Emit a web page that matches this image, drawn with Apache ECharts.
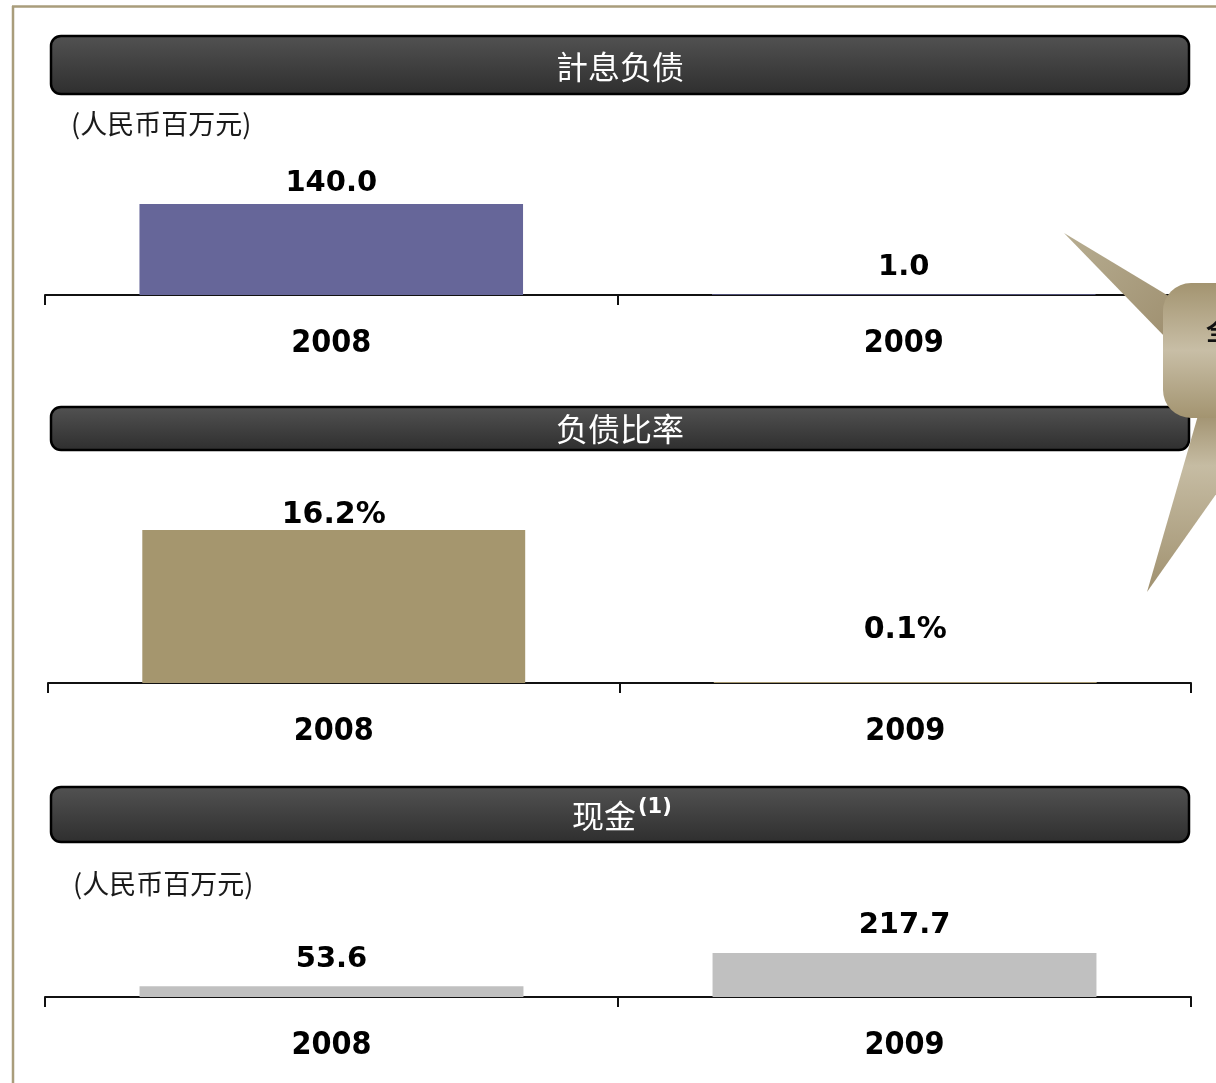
<!DOCTYPE html>
<html>
<head>
<meta charset="utf-8">
<script src="https://cdn.jsdelivr.net/npm/echarts@6/dist/echarts.min.js"></script>
<style>
  html, body { margin: 0; padding: 0; background: #ffffff; }
  #chart { width: 1216px; height: 1083px; }
</style>
</head>
<body>
<div id="chart"></div>
<script>
// Year categories shared by the three panels
const years = ['2008', '2009'];

// Interest-bearing debt (RMB million)
const debtValues = [140.0, 1.0];
// Debt ratio (%)
const ratioValues = [16.2, 0.1];
// Cash (RMB million)
const cashValues = [53.6, 217.7];

// Panel headings and unit note
const panelTitles = ['計息负债', '负债比率', '现金'];
const unitNote = '(人民币百万元)';

const NUM_FONT = '"DejaVu Sans", Verdana, sans-serif';
const CAT_FONT = '"DejaVu Sans Condensed", "DejaVu Sans", sans-serif';
const CJK_FONT = '"Noto Sans CJK SC", "Noto Sans", sans-serif';

const chart = echarts.init(document.getElementById('chart'), null, { renderer: 'canvas' });

function categoryAxis(gridIndex) {
  return {
    type: 'category',
    gridIndex: gridIndex,
    data: years,
    axisLine: { show: true, lineStyle: { color: '#111', width: 2 } },
    axisTick: { show: true, length: 10, alignWithLabel: false, lineStyle: { color: '#111', width: 2 } },
    axisLabel: {
      margin: 33,
      color: '#000',
      fontFamily: CAT_FONT,
      fontWeight: 'bold',
      fontSize: 32
    },
    splitLine: { show: false }
  };
}

function valueAxis(gridIndex, max) {
  return {
    type: 'value',
    gridIndex: gridIndex,
    min: 0,
    max: max,
    show: false,
    splitLine: { show: false }
  };
}

// Build bar data items; each label keeps its own gap above the bar
function barItems(values, gaps, fmt) {
  return values.map((v, i) => ({
    value: v,
    label: { distance: gaps[i], formatter: () => fmt(v) }
  }));
}

function barSeries(gridIndex, values, color, gaps, fmt, fontSize) {
  return {
    type: 'bar',
    xAxisIndex: gridIndex,
    yAxisIndex: gridIndex,
    barWidth: '67%',
    itemStyle: { color: color },
    label: {
      show: true,
      position: 'top',
      color: '#000',
      fontFamily: NUM_FONT,
      fontWeight: 'bold',
      fontSize: fontSize
    },
    data: barItems(values, gaps, fmt),
    animation: false
  };
}

// Dark rounded heading bar
function headingBar(y, h) {
  return {
    type: 'rect',
    shape: { x: 51, y: y, width: 1138, height: h, r: 10 },
    style: {
      fill: new echarts.graphic.LinearGradient(0, 0, 0, 1, [
        { offset: 0, color: '#525252' },
        { offset: 1, color: '#2e2e2e' }
      ]),
      stroke: '#000',
      lineWidth: 2.5
    },
    z: 1
  };
}

function headingText(text, cy) {
  return {
    type: 'text',
    x: 620,
    y: cy,
    style: {
      text: text,
      fill: '#ffffff',
      font: '32px ' + CJK_FONT,
      textAlign: 'center',
      textVerticalAlign: 'middle'
    },
    z: 2
  };
}

function unitText(x, cy) {
  return {
    type: 'text',
    x: x,
    y: cy,
    style: {
      text: unitNote,
      fill: '#1a1a1a',
      font: '27px ' + CJK_FONT,
      textAlign: 'left',
      textVerticalAlign: 'middle'
    },
    z: 2
  };
}

const tan = (dark, light) => new echarts.graphic.LinearGradient(0, 0, 0, 1, [
  { offset: 0, color: dark },
  { offset: 0.5, color: light },
  { offset: 1, color: dark }
]);

const option = {
  backgroundColor: '#ffffff',
  animation: false,
  grid: [
    { left: 45, top: 204, width: 1145, height: 91 },
    { left: 48, top: 530, width: 1143, height: 153 },
    { left: 45, top: 953, width: 1146, height: 44 }
  ],
  xAxis: [categoryAxis(0), categoryAxis(1), categoryAxis(2)],
  yAxis: [valueAxis(0, 140), valueAxis(1, 16.2), valueAxis(2, 217.7)],
  series: [
    barSeries(0, debtValues, '#666699', [6, 12], v => v.toFixed(1), 29),
    barSeries(1, ratioValues, '#a5966e', [0, 37], v => v.toFixed(1) + '%', 30),
    barSeries(2, cashValues, '#c0c0c0', [12, 13], v => v.toFixed(1), 29)
  ],
  graphic: [
    // frame lines
    { type: 'line', shape: { x1: 13, y1: 6, x2: 13, y2: 1083 }, style: { stroke: '#a99d7b', lineWidth: 2.5 }, z: 0 },
    { type: 'line', shape: { x1: 12, y1: 6.5, x2: 1216, y2: 6.5 }, style: { stroke: '#a99d7b', lineWidth: 2.5 }, z: 0 },

    headingBar(36, 58),
    headingText(panelTitles[0], 67),
    unitText(71, 124),

    headingBar(407, 43),
    headingText(panelTitles[1], 429),

    headingBar(787, 55),
    {
      type: 'text',
      x: 636,
      y: 816,
      style: {
        text: panelTitles[2],
        fill: '#ffffff',
        font: '32px ' + CJK_FONT,
        textAlign: 'right',
        textVerticalAlign: 'middle'
      },
      z: 2
    },
    {
      type: 'text',
      x: 638,
      y: 808,
      style: {
        text: '(1)',
        fill: '#ffffff',
        font: 'bold 21px ' + NUM_FONT,
        textAlign: 'left',
        textVerticalAlign: 'middle'
      },
      z: 2
    },
    unitText(73, 884),

    // callout on the right edge
    {
      type: 'group',
      z: 50,
      children: [
        {
          type: 'polygon',
          shape: { points: [[1064, 233], [1172, 298], [1166, 338]] },
          style: {
            fill: new echarts.graphic.LinearGradient(0, 0, 1, 1, [
              { offset: 0, color: '#b7ad91' },
              { offset: 1, color: '#9f9070' }
            ])
          },
          z: 50
        },
        {
          type: 'polygon',
          shape: { points: [[1147, 592], [1199, 412], [1260, 412], [1260, 432]] },
          style: {
            fill: new echarts.graphic.LinearGradient(0, 0, 0, 1, [
              { offset: 0, color: '#a0916f' },
              { offset: 0.3, color: '#c6bca3' },
              { offset: 1, color: '#a0916f' }
            ])
          },
          z: 50
        },
        {
          type: 'rect',
          shape: { x: 1163, y: 283, width: 140, height: 135, r: 28 },
          style: { fill: tan('#a39470', '#c8bea6') },
          z: 51
        },
        {
          type: 'text',
          x: 1206,
          y: 330,
          style: {
            text: '全',
            fill: '#111',
            font: 'bold 25px ' + CJK_FONT,
            textAlign: 'left',
            textVerticalAlign: 'middle'
          },
          z: 52
        }
      ]
    }
  ]
};

chart.setOption(option);
</script>
</body>
</html>
